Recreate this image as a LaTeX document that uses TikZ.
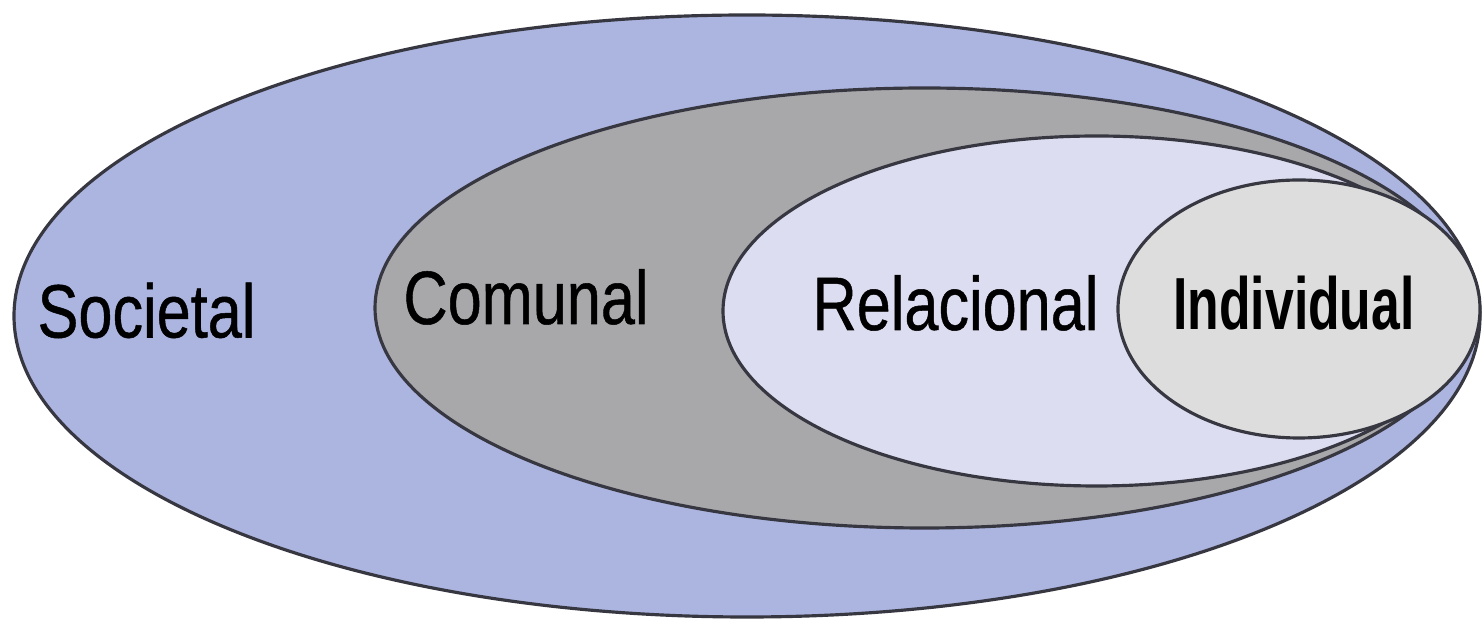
\documentclass[tikz,border=0pt]{standalone}
\usepackage{fontspec}
\setmainfont{Liberation Sans}
\newfontfamily\levelfont[FakeBold=0.7]{Liberation Sans}
\usepackage{tikz}
\usepackage{xcolor}
\usetikzlibrary{positioning,shapes.geometric}
\definecolor{societalblue}{RGB}{172,181,224}
\definecolor{comunalgray}{RGB}{168,168,171}
\definecolor{relacionalblue}{RGB}{220,221,240}
\definecolor{individualgray}{RGB}{221,221,221}
\definecolor{rimgray}{RGB}{55,55,65}
\tikzset{%
	ring/.style     = {draw=rimgray, line width=0.9pt},
	levelname/.style = {anchor=base, inner sep=0pt, xscale=0.81, font=\fontsize{21.5}{26}\levelfont},
	innername/.style = {anchor=base, inner sep=0pt, xscale=0.7, font=\fontsize{21}{26}\selectfont\bfseries},
}
\begin{document}
\begin{tikzpicture}[x=0.01cm,y=-0.01cm]
	\useasboundingbox (0,0) rectangle (1484,622);
	\fill[white] (0,0) rectangle (1484,622);
	% nested levels
	\draw[ring,fill=societalblue] (747,316) ellipse (733 and 301);
	\draw[ring,fill=comunalgray] (924.5,308) ellipse (549.5 and 220);
	\draw[ring,fill=relacionalblue] (1096.5,311) ellipse (373.5 and 175);
	\draw[ring,fill=individualgray] (1299,309) ellipse (181 and 129);
	% names
	\node[levelname] (societal) at (146.5,337.5) {Societal};
	\node[levelname] (comunal) at (526,324) {Comunal};
	\node[levelname] (relacional) at (955.5,330) {Relacional};
	\node[innername] (individual) at (1294,330) {Individual};
\end{tikzpicture}
\end{document}
